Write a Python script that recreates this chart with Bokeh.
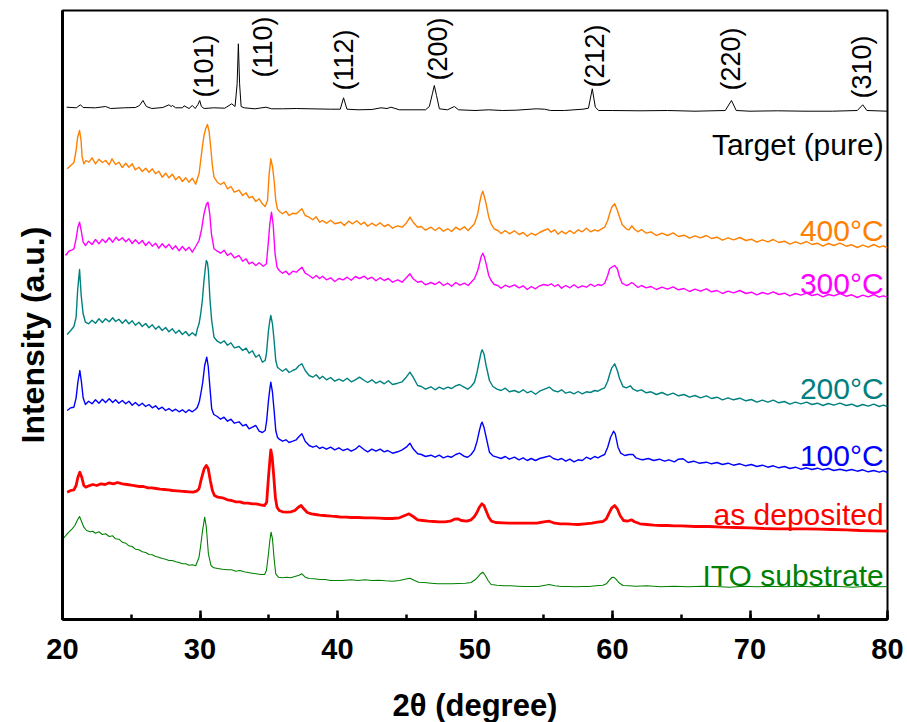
from bokeh.plotting import figure
from bokeh.models import Range1d, SingleIntervalTicker, FixedTicker, Title
from bokeh.core.properties import value
from bokeh.embed import file_html
from bokeh.resources import INLINE
import math

# ---- data: (2theta, intensity a.u.) ----
target = [(20.3,512.3),(21.0,511.7),(21.31,514.7),(21.5,512),(22.4,511.7),(23.13,513),(23.5,511),(24.5,511.7),(25.3,512),(25.6,514),(25.85,519),(26.1,513),(26.5,511),(27.3,512),(27.74,514.7),(27.9,513),(28.0,514),(28.23,511.7),(28.72,511.7),(28.84,513.7),(29.2,511),(29.44,514),(29.65,511),(29.85,515),(29.98,519),(30.1,513),(30.3,511),(31.0,511.7),(31.8,511.3),(32.31,515.7),(32.55,513),(32.7,535.7),(32.79,575.7),(32.88,535.7),(32.99,513),(33.21,511.7),(34.0,510.7),(34.8,512.3),(35.2,510.7),(36.0,510.7),(37.0,511),(38.0,510.7),(39.5,510.3),(40.2,510.3),(40.44,521.7),(40.69,510.3),(41.5,509.7),(42.5,510),(43.16,511.7),(43.6,511),(43.89,512.3),(44.5,509.7),(45.5,509.7),(46.4,509.7),(46.68,513),(46.9,525.7),(47.04,534),(47.2,524),(47.41,510.7),(48.0,509.7),(48.5,513),(48.8,509.7),(50.0,509),(51.0,509.7),(52.0,509),(53.0,509.3),(54.45,510.7),(55.06,510.3),(55.5,509),(56.5,509),(57.85,510.3),(58.25,511.3),(58.53,530.7),(58.75,512.3),(59.0,509),(60.0,509),(62.0,508.7),(64.0,509),(66.0,508.3),(68.2,509),(68.65,519),(69.0,509),(70.0,508.3),(72.0,508.7),(74.0,508.3),(76.0,508.3),(77.8,509),(78.2,514.7),(78.5,509),(80.0,508.3)]

t400 = [(20.34,450.7),(20.6,454),(20.83,457),(20.99,469),(21.1,482.3),(21.24,489),(21.35,479),(21.43,462.3),(21.55,455.7),(21.7,459),(21.92,457.3),(22.15,461.7),(22.4,455.7),(22.65,460.3),(22.9,457),(23.13,459),(23.4,454.7),(23.6,460.7),(23.86,455),(24.1,457.3),(24.35,452),(24.6,456.3),(24.83,452.3),(25.07,455.7),(25.3,449.7),(25.56,452.3),(25.8,448),(26.05,451.3),(26.29,447.3),(26.53,450.7),(26.77,445.7),(27.0,448.3),(27.25,442.3),(27.5,446.3),(27.74,441.7),(27.99,445.3),(28.23,439.7),(28.48,443),(28.72,438),(28.96,441.7),(29.2,437.3),(29.44,441.3),(29.69,435.3),(29.81,440.7),(29.93,445.7),(30.05,459),(30.17,472.3),(30.29,484),(30.41,490.7),(30.54,495),(30.66,488.3),(30.78,472.3),(30.9,454),(31.02,442.3),(31.26,437.3),(31.5,435),(31.75,437.3),(32.0,430.7),(32.25,433),(32.5,427.3),(32.84,429.3),(33.1,424),(33.35,426.7),(33.57,421.7),(33.81,423),(34.06,418),(34.3,420.7),(34.54,415.7),(34.74,413),(34.91,419),(35.03,445.7),(35.15,460.7),(35.28,452.3),(35.39,439),(35.51,419),(35.63,410.7),(35.76,408.3),(36.0,405.7),(36.25,408.3),(36.48,404),(36.75,406.3),(37.0,405.7),(37.2,408.3),(37.41,410.7),(37.65,404),(37.94,402.3),(38.2,399.7),(38.45,402.7),(38.7,397.3),(38.91,399),(39.2,396.3),(39.5,399.3),(39.8,395.7),(40.25,397.3),(40.5,394),(40.8,398.3),(41.1,395.7),(41.4,398.7),(41.7,395),(41.95,397.3),(42.2,393.3),(42.5,396.3),(42.8,393.7),(43.1,396.7),(43.4,393),(43.7,395),(44.0,391.3),(44.38,393.7),(44.7,392.3),(45.0,396.3),(45.27,402.3),(45.5,397.3),(45.83,392.3),(46.1,393),(46.4,389.3),(46.8,392.3),(47.1,389),(47.4,392),(47.7,388.3),(48.02,390.7),(48.3,388),(48.6,392.3),(48.9,389.7),(49.23,392.7),(49.5,389),(49.72,392.3),(49.96,395.7),(50.2,405.7),(50.32,415.7),(50.45,424),(50.57,428.3),(50.7,421.7),(50.81,415.7),(51.0,402.3),(51.17,395.7),(51.4,390.7),(51.66,389),(51.9,386),(52.2,389),(52.5,385.7),(52.87,388.7),(53.2,385),(53.5,387),(53.8,383.3),(54.09,386.3),(54.4,384.3),(54.7,387),(55.0,389),(55.3,390.7),(55.54,387.3),(55.8,389.7),(56.03,385.3),(56.3,388.3),(56.6,385.7),(56.9,389),(57.2,386),(57.5,389.7),(57.8,387.7),(58.1,391.3),(58.4,387.7),(58.7,389.7),(58.94,388.3),(59.2,390.7),(59.43,392.3),(59.65,399),(59.79,405.7),(59.95,412.3),(60.16,415.7),(60.35,409.3),(60.52,402.3),(60.7,395),(61.0,390.7),(61.2,389.7),(61.4,393.7),(61.6,390.3),(61.85,387.7),(62.1,390),(62.46,386.3),(62.8,387.7),(63.19,384),(63.6,386.3),(64.0,384),(64.41,386.7),(64.8,383),(65.2,384.3),(65.6,381.3),(66.0,383.7),(66.4,381.7),(66.83,384),(67.2,381),(67.6,382.3),(68.0,379.3),(68.4,381.7),(68.8,379.7),(69.26,382),(69.7,379),(70.1,380.3),(70.5,377.3),(70.9,379.7),(71.3,377.7),(71.69,380),(72.1,377),(72.5,378.3),(72.9,375.3),(73.3,377.7),(73.7,375.7),(74.12,378),(74.5,375),(74.9,376.3),(75.3,373.3),(75.7,376),(76.1,374),(76.54,376.3),(77.0,373.3),(77.4,374.7),(77.8,372),(78.2,374.3),(78.6,372.3),(79.0,375),(79.4,372.3),(79.7,373.7),(80.0,371.3)]

t300 = [(20.22,364),(20.46,368.3),(20.7,369.7),(20.83,370.7),(21.0,381.7),(21.12,392.3),(21.24,397.3),(21.36,389),(21.5,377.3),(21.67,374),(21.9,378.3),(22.15,375),(22.4,380),(22.65,375.7),(22.9,380.3),(23.13,377),(23.4,381.7),(23.65,377.3),(23.9,382.3),(24.1,379),(24.35,381.7),(24.6,377.7),(24.83,380.7),(25.07,376),(25.3,379.7),(25.56,375.7),(25.8,379),(26.05,374),(26.29,377.7),(26.53,373.3),(26.77,376.3),(27.0,371.3),(27.25,375.7),(27.5,371.7),(27.74,375.3),(27.99,370.3),(28.23,373.7),(28.48,368.7),(28.72,373),(28.96,369),(29.2,372.3),(29.44,367.3),(29.69,373),(29.93,379),(30.1,389),(30.29,405.7),(30.46,415),(30.58,417.3),(30.71,405.7),(30.83,385.7),(31.02,370.7),(31.26,368.3),(31.5,366.3),(31.75,369.3),(32.0,364),(32.25,366.3),(32.5,361.7),(32.84,364),(33.1,358.3),(33.35,360.7),(33.57,355.7),(33.81,357.3),(34.06,354),(34.3,356.7),(34.6,353.3),(34.83,355.7),(34.98,379),(35.08,395.7),(35.2,407.3),(35.32,395),(35.46,365.7),(35.6,352.3),(35.76,349),(36.0,346.3),(36.25,348.3),(36.48,344.7),(36.75,348.3),(37.0,347.3),(37.2,349.7),(37.41,352.3),(37.65,346.3),(37.94,344),(38.2,341.3),(38.45,344),(38.7,341),(38.91,343.3),(39.2,339.7),(39.5,341.7),(39.8,338),(40.1,341),(40.4,339.7),(40.7,342.3),(41.0,339.3),(41.3,343),(41.6,341),(41.95,343.3),(42.2,340.3),(42.5,342.3),(42.8,338.7),(43.1,341.7),(43.4,339),(43.7,341),(44.0,337.3),(44.38,339.7),(44.7,337.3),(45.0,341.7),(45.27,345.7),(45.5,340.7),(45.83,337.3),(46.1,338.3),(46.4,334.7),(46.8,337),(47.1,335),(47.4,337.7),(47.7,334),(48.02,336.3),(48.3,333.3),(48.6,337),(48.9,334.3),(49.23,336.3),(49.5,334),(49.72,337.3),(49.96,340.7),(50.2,349),(50.32,355.7),(50.45,363),(50.57,366.3),(50.7,361.7),(50.81,355.7),(51.0,344),(51.17,339),(51.4,335),(51.66,334),(51.9,331.3),(52.2,334.3),(52.5,332.3),(52.87,334.7),(53.2,331.7),(53.5,333.7),(53.8,330),(54.09,333),(54.4,330.7),(54.7,333.7),(55.0,335),(55.3,334),(55.54,335.7),(55.8,333),(56.03,335),(56.3,331.3),(56.6,334),(56.9,331.7),(57.2,334.7),(57.5,331.7),(57.8,333.7),(58.1,332.3),(58.4,335.3),(58.7,333),(58.94,335),(59.2,334),(59.43,336.3),(59.65,344),(59.79,350.7),(59.95,352.3),(60.16,354),(60.35,350.7),(60.52,342.3),(60.7,336.3),(61.0,334),(61.2,335),(61.4,337),(61.6,335),(61.85,332),(62.1,334),(62.46,331.7),(62.8,333),(63.19,330),(63.6,332.3),(64.0,330.3),(64.41,332.7),(64.8,329.7),(65.2,331),(65.6,328),(66.0,330.3),(66.4,328.3),(66.83,330.7),(67.2,327.7),(67.6,329),(68.0,326),(68.4,328.3),(68.8,326.7),(69.26,329),(69.7,326),(70.1,327.3),(70.5,324.7),(70.9,327),(71.3,325.3),(71.69,327.7),(72.1,325),(72.5,326.3),(72.9,323.7),(73.3,326),(73.7,324.3),(74.12,326.3),(74.5,324),(74.9,325.3),(75.3,322.7),(75.7,325),(76.1,323.7),(76.54,326),(77.0,323.3),(77.4,324.7),(77.8,322),(78.2,324.3),(78.6,322.7),(79.0,325),(79.4,322.3),(79.7,323.7),(80.0,322.3)]

t200 = [(20.34,285),(20.6,289),(20.83,293),(20.99,302.3),(21.1,329),(21.24,350),(21.36,324),(21.5,305.7),(21.67,297.3),(21.9,295.7),(22.15,299.3),(22.4,296.3),(22.65,300.7),(22.9,297),(23.13,300.7),(23.4,297.7),(23.65,301.7),(23.86,298),(24.1,300.3),(24.35,296.3),(24.6,299.7),(24.83,295.7),(25.07,298.7),(25.3,294.3),(25.56,297.3),(25.8,293),(26.05,296),(26.29,291.7),(26.53,294.7),(26.77,290.3),(27.0,293.3),(27.25,289),(27.5,292),(27.74,287.7),(27.99,290.7),(28.23,286.3),(28.48,289.3),(28.72,285),(28.96,288),(29.2,283.7),(29.44,286.7),(29.69,283.7),(29.81,290.7),(29.93,295.7),(30.05,305.7),(30.17,319),(30.29,339),(30.41,354),(30.46,359),(30.54,357),(30.61,349),(30.73,319),(30.85,299),(31.02,282.3),(31.26,278.3),(31.5,276.3),(31.75,278.7),(32.0,274.3),(32.25,276.7),(32.5,271.7),(32.84,273),(33.1,269),(33.35,271.3),(33.57,266.3),(33.81,268.7),(34.06,262.3),(34.3,264.7),(34.54,257.3),(34.74,259),(34.83,265.7),(34.98,289),(35.08,299),(35.15,304),(35.27,295.7),(35.39,279),(35.51,259),(35.63,252.3),(35.76,250.7),(36.0,248.3),(36.25,250.7),(36.48,247),(36.75,249),(37.0,250.7),(37.2,254),(37.41,255.7),(37.65,249),(37.94,244),(38.2,242.3),(38.45,244.7),(38.7,240.7),(38.91,243.3),(39.2,239.7),(39.5,242),(39.8,238.3),(40.1,240.3),(40.4,238.3),(40.7,241.3),(41.0,237.7),(41.3,239.7),(41.6,242.3),(41.95,239),(42.2,237),(42.5,239.7),(42.8,236.3),(43.1,238.3),(43.4,235.7),(43.7,238.7),(44.0,235),(44.38,236.3),(44.7,237.7),(45.0,242.3),(45.27,247.3),(45.5,242.3),(45.83,234),(46.1,233),(46.4,230.3),(46.8,232.7),(47.1,229.7),(47.4,232.3),(47.7,230.3),(48.02,232.3),(48.3,231),(48.6,233.7),(48.87,235),(49.2,232.3),(49.47,230.3),(49.72,233),(49.96,237.3),(50.15,247.3),(50.32,259),(50.45,267.3),(50.52,269.7),(50.65,265.7),(50.81,254),(51.05,239),(51.3,233),(51.6,230.3),(51.9,229),(52.2,231.3),(52.5,227.7),(52.87,229),(53.2,227),(53.5,229.7),(53.8,226.7),(54.09,228.3),(54.4,225.3),(54.7,228.3),(55.06,230.3),(55.42,232.3),(55.7,229),(56.03,227.7),(56.3,229.7),(56.6,226.3),(56.9,227.7),(57.2,225.7),(57.5,228),(57.8,225.7),(58.1,227.7),(58.4,227),(58.7,229),(58.94,228.3),(59.2,230.3),(59.43,231.7),(59.65,238.3),(59.79,245),(59.95,251.7),(60.16,255.7),(60.35,249),(60.52,240.7),(60.76,233),(61.0,231.7),(61.3,233.7),(61.5,230.3),(61.8,228.3),(62.1,229.7),(62.46,226.7),(62.8,227.7),(63.19,225),(63.6,227),(64.0,224.3),(64.41,226.3),(64.8,223.7),(65.2,225),(65.6,222.3),(66.0,224),(66.4,221.7),(66.83,223.7),(67.2,221),(67.6,222.3),(68.0,219.7),(68.4,221.7),(68.8,219.7),(69.26,221.3),(69.7,218.7),(70.1,220),(70.5,217.3),(70.9,219.3),(71.3,217.3),(71.69,219.3),(72.1,216.7),(72.5,218),(72.9,215.3),(73.3,217.3),(73.7,215.7),(74.12,217.3),(74.5,215),(74.9,216.3),(75.3,214),(75.7,216),(76.1,214.3),(76.54,216.3),(77.0,214),(77.4,215.3),(77.8,213),(78.2,215),(78.6,213.3),(79.0,215.3),(79.4,213),(79.7,214.3),(80.0,213)]

t100 = [(20.34,209),(20.6,211.7),(20.83,212.3),(20.99,221.7),(21.12,237.3),(21.26,249),(21.38,237.3),(21.5,221.7),(21.67,215),(21.9,218.3),(22.15,215.7),(22.4,219.7),(22.65,216.3),(22.9,220.3),(23.13,217),(23.4,220.7),(23.65,217),(23.86,219.7),(24.1,216.3),(24.35,219),(24.6,215.7),(24.83,218.3),(25.07,214.3),(25.3,217),(25.56,213.7),(25.8,216.3),(26.05,213),(26.29,215),(26.53,211.7),(26.77,213.7),(27.0,210.3),(27.25,212.3),(27.5,209),(27.74,211),(27.99,208.3),(28.23,210.3),(28.48,207.7),(28.72,209.7),(28.96,207),(29.2,209.7),(29.44,207.7),(29.69,210.3),(29.81,212.3),(29.96,218.3),(30.1,229),(30.2,237.3),(30.34,254),(30.49,262.3),(30.6,253),(30.73,230.7),(30.85,210.7),(31.0,205),(31.26,203),(31.5,200.3),(31.75,202.3),(32.0,198.3),(32.25,200.3),(32.5,196.3),(32.84,197.7),(33.1,193.7),(33.35,195),(33.57,190.7),(33.81,192.3),(34.06,194),(34.3,188.3),(34.54,187),(34.74,189),(34.85,199),(34.98,219),(35.08,230.7),(35.15,237.3),(35.27,227.3),(35.39,209),(35.51,189),(35.63,182.3),(35.76,180.3),(36.0,178.3),(36.25,179.7),(36.48,177),(36.75,178.3),(37.0,179.7),(37.2,183),(37.41,185.7),(37.65,178.3),(37.94,174),(38.2,172.3),(38.45,173.7),(38.7,171),(38.91,172.3),(39.2,170.3),(39.5,172.3),(39.8,169.7),(40.1,171.7),(40.4,169),(40.73,170.7),(41.0,168.3),(41.3,170.3),(41.58,173.7),(41.95,169.7),(42.2,167.7),(42.5,170.3),(42.8,168.3),(43.1,170.3),(43.4,167.7),(43.65,169),(44.0,166.3),(44.38,167.7),(44.7,169.7),(45.0,172.3),(45.27,176.3),(45.5,170.7),(45.83,165.7),(46.1,165),(46.4,163),(46.8,164.3),(47.1,162.3),(47.4,164.3),(47.7,161.7),(48.02,163.3),(48.3,162.3),(48.6,165),(48.87,166.3),(49.2,163.3),(49.47,162.3),(49.72,165),(49.96,169.7),(50.15,178.3),(50.32,189),(50.45,195.7),(50.52,197.3),(50.65,192.3),(50.8,183),(51.05,167.3),(51.3,163.7),(51.6,162.3),(51.9,161),(52.2,163),(52.5,160.3),(52.87,162.3),(53.2,159.7),(53.5,161.7),(53.8,159),(54.09,161),(54.4,159),(54.7,161),(55.06,162.3),(55.42,163.7),(55.7,161),(56.03,159.7),(56.3,161),(56.6,158.3),(56.9,160.3),(57.2,157.7),(57.5,159.7),(57.8,159),(58.1,162.3),(58.4,160.3),(58.7,163),(58.94,161.7),(59.2,163.7),(59.43,165),(59.65,172.3),(59.86,182.3),(60.08,188.3),(60.2,185.7),(60.4,172.3),(60.6,166.3),(60.89,164),(61.2,165),(61.49,165),(61.7,161.7),(61.98,160.3),(62.22,159.7),(62.6,161),(63.0,159),(63.4,160.3),(63.8,158.3),(64.1,159.7),(64.5,157.7),(64.8,160.3),(65.13,160.7),(65.5,157),(65.9,158.3),(66.3,156.3),(66.83,157.3),(67.2,155.7),(67.6,157),(68.0,155),(68.4,156.3),(68.8,154.3),(69.26,155.7),(69.7,153.7),(70.1,155),(70.5,153),(70.9,154.3),(71.3,152.3),(71.69,153.7),(72.1,151.7),(72.5,153),(72.9,151),(73.3,152.3),(73.7,150.3),(74.12,151.7),(74.5,150),(74.9,151.3),(75.3,149.7),(75.7,151),(76.1,149),(76.54,150.3),(77.0,148.7),(77.4,150),(77.8,148.3),(78.2,149.7),(78.6,147.7),(79.0,149),(79.4,147.3),(79.7,148.7),(80.0,147)]

asdep = [(20.34,127.3),(20.6,129),(20.83,129.7),(20.99,134),(21.12,142.3),(21.26,147.3),(21.4,142.3),(21.55,134),(21.7,132.3),(21.92,133.7),(22.2,135),(22.5,134),(22.8,135.7),(23.1,135),(23.4,136.7),(23.7,135.7),(24.0,137),(24.35,135.7),(24.7,135),(25.0,134.3),(25.3,133.7),(25.6,133),(25.9,133),(26.2,131.7),(26.5,131.7),(26.8,131),(27.1,130.3),(27.4,130),(27.7,129.7),(28.0,129),(28.3,128.7),(28.6,128.3),(28.9,128),(29.2,127.7),(29.5,127.3),(29.75,128.3),(29.93,130.7),(30.1,140.7),(30.3,150.7),(30.46,154),(30.6,150.7),(30.75,139),(30.9,129),(31.05,124),(31.3,122.3),(31.63,121.7),(32.0,119.7),(32.3,119),(32.6,117.7),(32.9,117.7),(33.2,116.3),(33.5,116.3),(33.8,115.7),(34.1,115.7),(34.4,114.7),(34.7,114),(34.85,117.3),(34.98,142.3),(35.08,159),(35.15,169.7),(35.25,162.3),(35.35,145.7),(35.48,122.3),(35.6,112.3),(35.76,109),(36.0,107.7),(36.3,107.3),(36.6,107.7),(36.9,109),(37.15,112.3),(37.35,114),(37.55,110.7),(37.8,107),(38.1,105.7),(38.4,105),(38.7,104.3),(39.0,104),(39.3,103.7),(39.6,103.3),(39.9,103),(40.25,102.3),(40.6,102.3),(41.0,102),(41.5,102),(42.0,101.7),(42.5,101.7),(43.0,101.3),(43.5,101),(44.0,101),(44.5,101.7),(44.9,104),(45.2,105.7),(45.5,103),(45.83,99.7),(46.2,99),(46.6,98.3),(47.0,98),(47.4,97.7),(47.8,97.7),(48.2,98.3),(48.5,100.3),(48.75,100.7),(49.0,99),(49.4,98.3),(49.72,99.7),(49.96,103),(50.15,107.3),(50.32,112.3),(50.5,115.7),(50.65,114),(50.8,109),(51.0,102.3),(51.2,98.3),(51.5,97),(52.0,96.7),(52.5,96.3),(53.0,96.3),(53.5,96.3),(54.0,96.3),(54.5,96.3),(55.0,97.7),(55.4,98.3),(55.8,96.3),(56.2,95.7),(56.6,95.7),(57.0,95.3),(57.5,95),(58.0,95.7),(58.5,96.3),(58.9,97.3),(59.3,98),(59.55,100.7),(59.75,106.3),(59.95,111.7),(60.16,114),(60.35,110.7),(60.55,104),(60.8,99),(61.1,98.3),(61.37,99.7),(61.6,97.7),(62.0,95.7),(62.5,95),(63.0,94.3),(63.5,94),(64.0,94),(64.5,93.7),(65.0,93.7),(66.0,93),(67.0,93),(68.0,92.3),(69.0,92),(70.0,91.7),(71.0,91),(72.0,90.7),(73.0,90.7),(74.0,90.7),(75.0,90.3),(76.0,90),(77.0,89.7),(78.0,89),(79.0,88.7),(80.0,88.3)]

ito = [(20.1,81.7),(20.3,85),(20.46,87.3),(20.7,90.7),(20.9,94),(21.07,99),(21.24,103),(21.38,98.3),(21.55,92.3),(21.75,89),(22.0,87.7),(22.2,88.3),(22.4,86.3),(22.65,87.7),(22.9,85),(23.13,85.7),(23.4,83),(23.65,83.7),(23.86,80.7),(24.1,80.3),(24.35,77.3),(24.6,76.3),(24.83,73.7),(25.07,73),(25.3,70.3),(25.56,69.7),(25.8,67.7),(26.05,67),(26.29,65),(26.53,64.7),(26.77,63),(27.0,62.3),(27.25,61),(27.5,60.3),(27.74,59),(27.99,59),(28.23,57.7),(28.48,57),(28.72,55.7),(28.96,55.7),(29.2,54.3),(29.44,54.7),(29.69,53.7),(29.93,62.3),(30.05,74),(30.17,87.3),(30.34,102.3),(30.46,92.3),(30.61,65.7),(30.8,54),(31.0,51.7),(31.3,51),(31.63,50.3),(32.0,49.7),(32.3,49.7),(32.6,48.3),(32.9,49),(33.2,47.7),(33.5,47),(33.81,46.3),(34.1,45.7),(34.4,45),(34.7,45),(34.83,49),(34.98,65.7),(35.08,79),(35.17,87.3),(35.27,80.7),(35.39,60.7),(35.51,45.7),(35.7,42.3),(36.0,41.7),(36.3,42.3),(36.6,41.7),(36.9,43),(37.2,44.3),(37.41,45.7),(37.65,42.3),(37.94,41),(38.3,40.7),(38.7,40),(39.1,40),(39.5,39),(39.9,39),(40.3,39),(41.0,39.7),(41.5,39),(42.0,39.7),(42.5,39),(43.0,39.3),(43.5,38.7),(44.0,38.3),(44.5,39),(44.9,40.3),(45.27,41.3),(45.6,39),(45.9,37.3),(46.3,37),(46.8,36.3),(47.3,35.7),(47.8,35.7),(48.3,35.7),(48.8,36),(49.3,36.3),(49.72,37),(50.0,39.7),(50.2,42.3),(50.35,45),(50.57,47.3),(50.75,44),(50.95,39),(51.17,35),(51.6,34.3),(52.1,33.7),(52.6,33.7),(53.1,33.3),(53.6,33),(54.1,33),(54.6,33),(55.0,34),(55.4,35),(55.8,33.7),(56.3,33),(56.8,33),(57.3,32.7),(57.8,33),(58.3,33),(58.8,33.7),(59.3,34.3),(59.55,35.7),(59.79,39.7),(59.95,42),(60.08,42.3),(60.25,40.3),(60.45,37),(60.76,34),(61.2,33.7),(61.7,33.3),(62.5,33.7),(63.5,32.7),(64.5,33.3),(65.5,32.7),(66.5,33.3),(67.5,33),(68.5,32.3),(69.5,33.3),(70.5,32.7),(71.5,33.3),(72.5,32.7),(73.5,33.3),(74.5,32.7),(75.5,33.3),(76.5,33),(77.5,32.3),(78.5,33.3),(79.5,32.7),(80.0,33)]

series_names = ["Target (pure)", "400°C", "300°C", "200°C", "100°C", "as deposited", "ITO substrate"]
series_data = [target, t400, t300, t200, t100, asdep, ito]
series_colors = ["#000000", "#FF8000", "#FF00FF", "#008080", "#0000FF", "#FF0000", "#008000"]
series_widths = [1.0, 1.4, 1.4, 1.4, 1.4, 2.8, 1.1]
label_x = 79.72
label_y = [475, 389, 336, 231, 164, 105, 44]

hkl_text = ["(101)", "(110)", "(112)", "(200)", "(212)", "(220)", "(310)"]
hkl_x = [30.27, 34.57, 40.50, 47.31, 58.75, 68.65, 78.12]
hkl_y = [522, 542, 529, 539, 532, 529, 521]

FONT = "Liberation Sans"

p = figure(frame_width=825, frame_height=609, x_range=Range1d(20, 80), y_range=Range1d(0, 609),
           output_backend="svg", toolbar_location=None,
           min_border_left=62, min_border_right=18, min_border_top=10, min_border_bottom=103)
p.xgrid.visible = False
p.ygrid.visible = False
p.outline_line_color = "black"
p.outline_line_width = 2
p.outline_line_alpha = 1.0
p.background_fill_color = "white"
p.border_fill_color = "white"

for name, data, col, lw in zip(series_names, series_data, series_colors, series_widths):
    xs = [d[0] for d in data]
    ys = [d[1] for d in data]
    p.line(xs, ys, line_color=col, line_width=lw, line_join="round")

p.text(x=[label_x] * len(series_names), y=label_y, text=series_names,
       text_color=series_colors, text_font=value(FONT), text_font_size="30px",
       text_align="right", text_baseline="alphabetic")

p.text(x=hkl_x, y=hkl_y, text=hkl_text, angle=math.pi / 2, text_color="black",
       text_font=value(FONT), text_font_size="27px", text_align="left", text_baseline="middle")

xa = p.xaxis[0]
xa.ticker = SingleIntervalTicker(interval=10, num_minor_ticks=2)
xa.axis_line_width = 3
xa.major_tick_in = 9
xa.major_tick_out = 0
xa.minor_tick_in = 5
xa.minor_tick_out = 0
xa.major_tick_line_width = 2.5
xa.minor_tick_line_width = 2.5
xa.major_label_text_font = FONT
xa.major_label_text_font_style = "bold"
xa.major_label_text_font_size = "29px"
xa.major_label_text_color = "black"
xa.major_label_standoff = 19
xa.axis_label = "2θ (degree)"
xa.axis_label_text_font = FONT
xa.axis_label_text_font_style = "bold"
xa.axis_label_text_font_size = "31px"
xa.axis_label_text_color = "black"
xa.axis_label_standoff = 26

ya = p.yaxis[0]
ya.ticker = FixedTicker(ticks=[])
ya.axis_line_width = 3
ya.major_tick_line_color = None
ya.minor_tick_line_color = None
ya.major_label_text_font_size = "0px"

ytitle = Title(text="Intensity (a.u.)", align="left", vertical_align="middle", offset=176,
               text_font=FONT, text_font_style="bold", text_font_size="32px",
               text_color="black", standoff=22)
p.add_layout(ytitle, "left")

open("out.html", "w").write(file_html(p, INLINE))
